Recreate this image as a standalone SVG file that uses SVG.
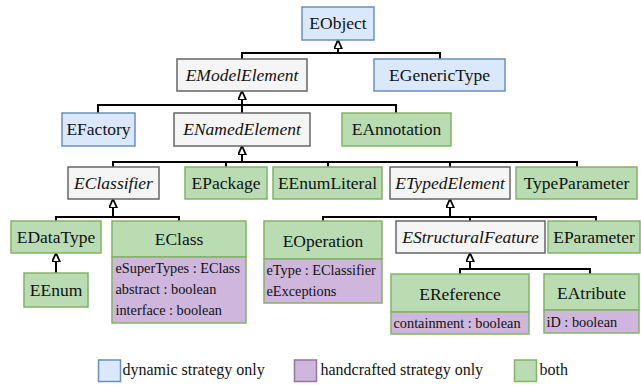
<svg xmlns="http://www.w3.org/2000/svg" width="641" height="385" viewBox="0 0 641 385" font-family="Liberation Serif, Times New Roman, serif">
<defs>
<marker id="tri" viewBox="0 0 10 10" refX="10" refY="5" markerWidth="9" markerHeight="9" markerUnits="userSpaceOnUse" orient="auto">
<path d="M0,0.5 L10,5 L0,9.5 z" fill="#fff" stroke="#000" stroke-width="2"/>
</marker>
</defs>
<style>
text{font-family:'Liberation Serif',serif;fill:#111;}
.n{font-size:17.5px;text-anchor:middle;}
.i{font-style:italic;}
.a{font-size:14.3px;}
.lg{font-size:16px;}
.blue{fill:#dae8fc;stroke:#6c8ebf;stroke-width:1.5;}
.gray{fill:#f5f5f5;stroke:#666666;stroke-width:1.5;}
.green{fill:#b9dcb3;stroke:#82b366;stroke-width:1.5;}
.purple{fill:#ceb6dc;stroke:#82b366;stroke-width:1.5;}
.purpleL{fill:#ceb6dc;stroke:#9673a6;stroke-width:1.5;}
.c{fill:none;stroke:#000;stroke-width:2;}
</style>
<g id="connectors">
<path class="c" d="M242,59 V53 H440 V59"/><path class="c" d="M338,53 V40" marker-end="url(#tri)"/>
<path class="c" d="M98,113 V105 H396 V113 M242,105 V113"/><path class="c" d="M242,105 V91" marker-end="url(#tri)"/>
<path class="c" d="M113,167 V162 H577 V167 M226,162 V167 M328,162 V167 M450,162 V167"/><path class="c" d="M242,162 V146" marker-end="url(#tri)"/>
<path class="c" d="M56,221 V217 H179 V221"/><path class="c" d="M113,217 V199" marker-end="url(#tri)"/>
<path class="c" d="M56,273 V253" marker-end="url(#tri)"/>
<path class="c" d="M323,221 V217 H596 V221 M470,217 V221"/><path class="c" d="M450,217 V199" marker-end="url(#tri)"/>
<path class="c" d="M460,274 V269 H590 V274"/><path class="c" d="M470,269 V253" marker-end="url(#tri)"/>
</g>
<g id="EObject"><rect class="blue" x="302" y="7" width="72" height="33"/><text class="n" x="338" y="29">EObject</text></g>
<g id="EModelElement"><rect class="gray" x="177" y="59" width="130" height="32"/><text class="n i" x="242" y="81">EModelElement</text></g>
<g id="EGenericType"><rect class="blue" x="374" y="59" width="131" height="32"/><text class="n" x="439.5" y="81">EGenericType</text></g>
<g id="EFactory"><rect class="blue" x="62" y="113" width="73" height="33"/><text class="n" x="98.5" y="135">EFactory</text></g>
<g id="ENamedElement"><rect class="gray" x="174" y="113" width="136" height="33"/><text class="n i" x="242" y="135">ENamedElement</text></g>
<g id="EAnnotation"><rect class="green" x="342" y="113" width="109" height="33"/><text class="n" x="396.5" y="135">EAnnotation</text></g>
<g id="EClassifier"><rect class="gray" x="68" y="167" width="91" height="32"/><text class="n i" x="113.5" y="189">EClassifier</text></g>
<g id="EPackage"><rect class="green" x="185" y="167" width="82" height="32"/><text class="n" x="226" y="189">EPackage</text></g>
<g id="EEnumLiteral"><rect class="green" x="273" y="167" width="109" height="32"/><text class="n" x="327.5" y="189">EEnumLiteral</text></g>
<g id="ETypedElement"><rect class="gray" x="390" y="167" width="120" height="32"/><text class="n i" x="450" y="189">ETypedElement</text></g>
<g id="TypeParameter"><rect class="green" x="516" y="167" width="121" height="32"/><text class="n" x="576.5" y="189">TypeParameter</text></g>
<g id="EDataType"><rect class="green" x="11" y="221" width="90" height="32"/><text class="n" x="56" y="243">EDataType</text></g>
<g id="EEnum"><rect class="green" x="24" y="273" width="64" height="34"/><text class="n" x="56" y="296">EEnum</text></g>
<g id="EClass"><rect class="green" x="112" y="221" width="134" height="36"/><rect class="purple" x="112" y="257" width="134" height="66"/><text class="n" x="179" y="245">EClass</text>
<text class="a" x="115.5" y="272.5">eSuperTypes : EClass</text><text class="a" x="115.5" y="294">abstract : boolean</text><text class="a" x="115.5" y="314.5">interface : boolean</text></g>
<g id="EOperation"><rect class="green" x="264" y="221" width="118" height="38"/><rect class="purple" x="264" y="259" width="118" height="44"/><text class="n" x="323" y="246.5">EOperation</text>
<text class="a" x="266.5" y="274.5">eType : EClassifier</text><text class="a" x="266.5" y="295.5">eExceptions</text></g>
<g id="EStructuralFeature"><rect class="gray" x="396" y="221" width="149" height="32"/><text class="n i" x="470.5" y="243">EStructuralFeature</text></g>
<g id="EParameter"><rect class="green" x="548" y="221" width="92" height="32"/><text class="n" x="594" y="243">EParameter</text></g>
<g id="EReference"><rect class="green" x="391" y="274" width="138" height="38"/><rect class="purple" x="391" y="312" width="138" height="22"/><text class="n" x="460" y="300">EReference</text>
<text class="a" x="393.5" y="328">containment : boolean</text></g>
<g id="EAtribute"><rect class="green" x="544" y="274" width="95" height="36"/><rect class="purple" x="544" y="310" width="95" height="23"/><text class="n" x="591.5" y="299">EAtribute</text>
<text class="a" x="546.5" y="327">iD : boolean</text></g>
<g id="legend">
<rect class="blue" x="98.5" y="360" width="22" height="21.5"/><text class="lg" x="122.5" y="375">dynamic strategy only</text>
<rect class="purpleL" x="294.5" y="360" width="22" height="21.5"/><text class="lg" x="320.5" y="375">handcrafted strategy only</text>
<rect class="green" x="514.5" y="360" width="22" height="21.5"/><text class="lg" x="539.5" y="375">both</text>
</g>
</svg>
